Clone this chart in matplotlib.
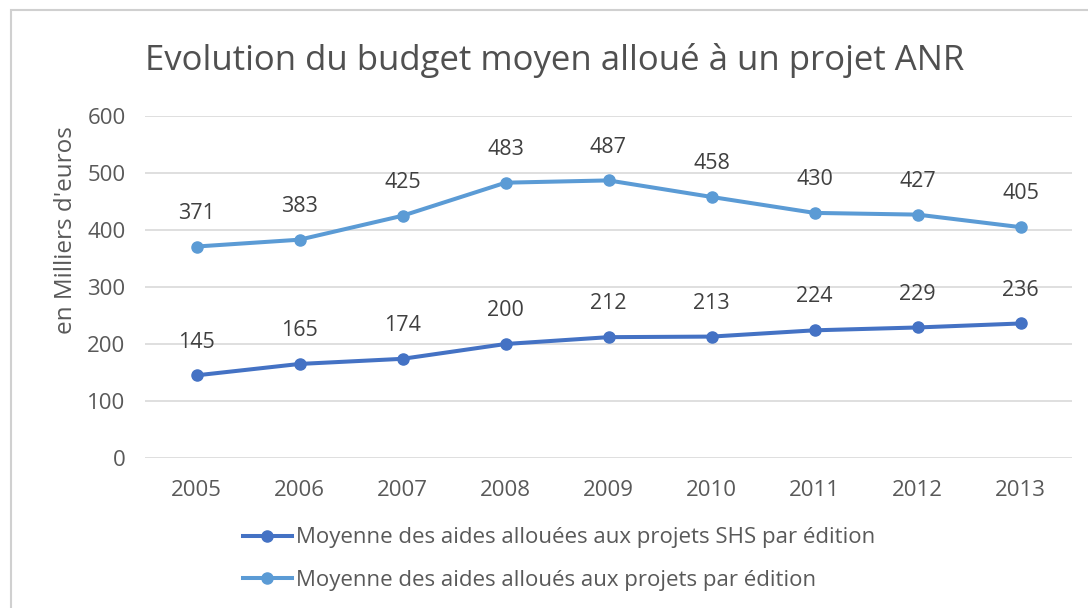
import matplotlib
matplotlib.use("Agg")
import matplotlib.pyplot as plt
from matplotlib.patches import Rectangle

plt.rcParams['font.family'] = ['Open Sans', 'DejaVu Sans']

# data
years = ['2005', '2006', '2007', '2008', '2009', '2010', '2011', '2012', '2013']
shs = [145, 165, 174, 200, 212, 213, 224, 229, 236]
tous = [371, 383, 425, 483, 487, 458, 430, 427, 405]
lab_shs = 'Moyenne des aides allouées aux projets SHS par édition'
lab_tous = 'Moyenne des aides alloués aux projets par édition'

c_dark = '#4472C4'
c_light = '#5B9BD5'
txt = '#595959'

fig = plt.figure(figsize=(10.88, 6.08), dpi=100)
ax = fig.add_axes([145/1088, 1-458/608, (1072-145)/1088, (458-116)/608])

x = list(range(len(years)))
ax.plot(x, shs, color=c_dark, lw=2.9, marker='o', ms=8, label=lab_shs)
ax.plot(x, tous, color=c_light, lw=2.9, marker='o', ms=8, label=lab_tous)

for xi, v in zip(x, shs):
    ax.annotate(str(v), (xi, v), xytext=(0, 24), textcoords='offset points',
                ha='center', va='center', fontsize=15.5, color='#404040')
for xi, v in zip(x, tous):
    ax.annotate(str(v), (xi, v), xytext=(0, 24), textcoords='offset points',
                ha='center', va='center', fontsize=15.5, color='#404040')

ax.set_xlim(-0.5, len(years) - 0.5)
ax.set_ylim(0, 600)
ax.set_yticks(range(0, 601, 100))
ax.set_xticks(x)
ax.set_xticklabels(years)
ax.grid(axis='y', color='#D9D9D9', lw=1.2)
ax.set_axisbelow(True)
for s in ax.spines.values():
    s.set_visible(False)
ax.tick_params(axis='both', length=0, labelsize=16, labelcolor=txt)
ax.tick_params(axis='y', pad=14)
ax.tick_params(axis='x', pad=16)
ax.set_ylabel("en Milliers d'euros", fontsize=17.5, color=txt)
ax.yaxis.set_label_coords((78-145)/927, (458-230)/342)

fig.text(555/1088, 1-60/608, 'Evolution du budget moyen alloué à un projet ANR',
         ha='center', va='center', fontsize=25, color='#505050')

fig.legend(loc='center left', bbox_to_anchor=(243/1088, 1-559/608), frameon=False,
           fontsize=16, handlelength=2.2, handletextpad=0.2, labelspacing=0.95,
           borderpad=0, borderaxespad=0, labelcolor=txt)

fig.patches.append(Rectangle((11/1088, -0.05), 1.1, 0.05 + 1-10/608, transform=fig.transFigure,
                             fill=False, edgecolor='#D0D0D0', lw=1.5))

fig.savefig('out.png', dpi=100)
